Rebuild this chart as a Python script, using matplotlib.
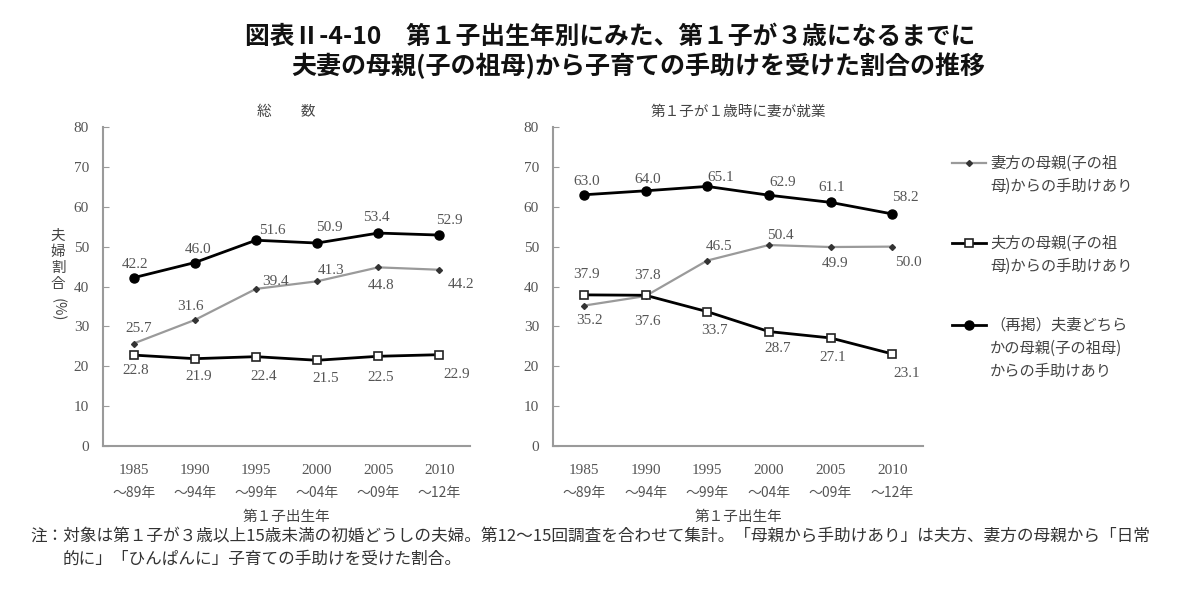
import numpy as np
import matplotlib.pyplot as plt
from matplotlib.lines import Line2D

plt.rcParams['font.family'] = ['Noto Sans CJK JP', 'DejaVu Sans']

years_top = ["1985", "1990", "1995", "2000", "2005", "2010"]
years_bot = ["～89年", "～94年", "～99年", "～04年", "～09年", "～12年"]

# 総数
wife_total = [25.7, 31.6, 39.4, 41.3, 44.8, 44.2]
husb_total = [22.8, 21.9, 22.4, 21.5, 22.5, 22.9]
either_total = [42.2, 46.0, 51.6, 50.9, 53.4, 52.9]

# 第1子が1歳時に妻が就業
wife_work = [35.2, 37.6, 46.5, 50.4, 49.9, 50.0]
husb_work = [37.9, 37.8, 33.7, 28.7, 27.1, 23.1]
either_work = [63.0, 64.0, 65.1, 62.9, 61.1, 58.2]

# label offsets in pixels
off_wife_total = [(5, 15), (-4, 13), (20, 7), (14, 11), (3, -18), (22, -15)]
off_husb_total = [(2, -15), (4, -18), (8, -20), (9, -18), (2, -21), (17, -20)]
off_either_total = [(1, 13), (3, 13), (16, 10), (12, 16), (-2, 16), (10, 15)]
off_wife_work = [(6, -15), (2, -25), (12, 14), (12, 10), (5, -16), (16, -16)]
off_husb_work = [(3, 20), (2, 20), (7, -19), (9, -17), (2, -20), (15, -20)]
off_either_work = [(3, 13), (2, 11), (14, 9), (14, 13), (1, 15), (13, 16)]

GRAY = '#9a9a9a'
TXT = '#555555'
NUM = 'Liberation Serif'

wife_style = dict(color=GRAY, lw=1.6, marker='D', ms=3, mfc='#333333', mec='#333333')
husb_style = dict(color='black', lw=2.0, marker='s', ms=6, mfc='white', mec='#222222', mew=1.2)
either_style = dict(color='black', lw=2.0, marker='o', ms=6.5)

fig = plt.figure(figsize=(12, 5.93), dpi=100)

def panel(ax, wife, husb, either, ow, oh, oe, title):
    x = np.arange(len(years_top))
    ax.plot(x, wife, zorder=2, **wife_style)
    ax.plot(x, husb, zorder=3, **husb_style)
    ax.plot(x, either, zorder=4, **either_style)
    for vals, offs in ((wife, ow), (husb, oh), (either, oe)):
        for i, (v, o) in enumerate(zip(vals, offs)):
            ax.annotate(f"{v:.1f}", (i, v), xytext=o, textcoords='offset pixels',
                        ha='center', va='center', fontsize=11, family=NUM, color=TXT)
    ax.set_xlim(-0.5, 5.5)
    ax.set_ylim(0, 80)
    ax.set_yticks(range(0, 81, 10))
    ax.set_xticks(x)
    ax.set_xticklabels([])
    for i in x:
        ax.text(i, -0.055, years_top[i], transform=ax.get_xaxis_transform(),
                ha='center', va='top', fontsize=11, family=NUM, color=TXT)
        ax.text(i, -0.125, years_bot[i], transform=ax.get_xaxis_transform(),
                ha='center', va='top', fontsize=10, color=TXT)
    ax.text(2.5, -0.2, "第１子出生年", transform=ax.get_xaxis_transform(),
            ha='center', va='top', fontsize=10.5, color='#444444')
    for lab in ax.get_yticklabels():
        lab.set_family(NUM)
    ax.tick_params(axis='y', labelsize=11, labelcolor=TXT, length=4, direction='in', color=GRAY, pad=10)
    ax.tick_params(axis='x', length=0)
    for s in ('top', 'right'):
        ax.spines[s].set_visible(False)
    for s in ('left', 'bottom'):
        ax.spines[s].set_color(GRAY)
        ax.spines[s].set_linewidth(1.5)
    ax.text(0.5, 1.025, title, transform=ax.transAxes, ha='center', va='bottom',
            fontsize=10.5, color='#444444')

ax1 = fig.add_axes([103/1200, 1 - 446/593, 367/1200, 319/593])
ax2 = fig.add_axes([553/1200, 1 - 446/593, 370/1200, 319/593])
panel(ax1, wife_total, husb_total, either_total, off_wife_total, off_husb_total, off_either_total, "総　　数")
panel(ax2, wife_work, husb_work, either_work, off_wife_work, off_husb_work, off_either_work, "第１子が１歳時に妻が就業")

# y label
for k, ch in enumerate("夫婦割合"):
    fig.text(58/1200, 1 - (236 + 16*k)/593, ch, ha='center', va='center', fontsize=10.5, color='#444444')
fig.text(58/1200, 1 - 310/593, "(%)", ha='center', va='center', fontsize=10.5, color='#444444', rotation=270)

# titles
fig.text(610/1200, 1 - 37/593, "図表Ⅱ-4-10　第１子出生年別にみた、第１子が３歳になるまでに",
         ha='center', va='center', fontsize=17.8, fontweight='bold', color='#111111')
fig.text(638/1200, 1 - 66/593, "夫妻の母親(子の祖母)から子育ての手助けを受けた割合の推移",
         ha='center', va='center', fontsize=18, fontweight='bold', color='#111111')

# legend
leg_items = [
    (163, wife_style, ["妻方の母親(子の祖", "母)からの手助けあり"]),
    (243, husb_style, ["夫方の母親(子の祖", "母)からの手助けあり"]),
    (325, either_style, ["（再掲）夫妻どちら", "かの母親(子の祖母)", "からの手助けあり"]),
]
for ypx, style, lines in leg_items:
    y = 1 - ypx/593
    line_only = {k: v for k, v in style.items() if k in ('color', 'lw')}
    fig.add_artist(Line2D([952/1200, 986/1200], [y, y], transform=fig.transFigure, **line_only))
    mk = dict(style)
    mk['lw'] = 0
    fig.add_artist(Line2D([969/1200], [y], transform=fig.transFigure, **mk))
    for j, t in enumerate(lines):
        fig.text(990/1200, 1 - (ypx + 23*j)/593, t, ha='left', va='center', fontsize=11, color='#444444')

# note
fig.text(30/1200, 1 - 537/593,
         "注：対象は第１子が３歳以上15歳未満の初婚どうしの夫婦。第12～15回調査を合わせて集計。「母親から手助けあり」は夫方、妻方の母親から「日常",
         ha='left', va='center', fontsize=12, color='#333333')
fig.text(63/1200, 1 - 559/593, "的に」「ひんぱんに」子育ての手助けを受けた割合。",
         ha='left', va='center', fontsize=12, color='#333333')

fig.savefig('out.png', dpi=100, facecolor='white')
